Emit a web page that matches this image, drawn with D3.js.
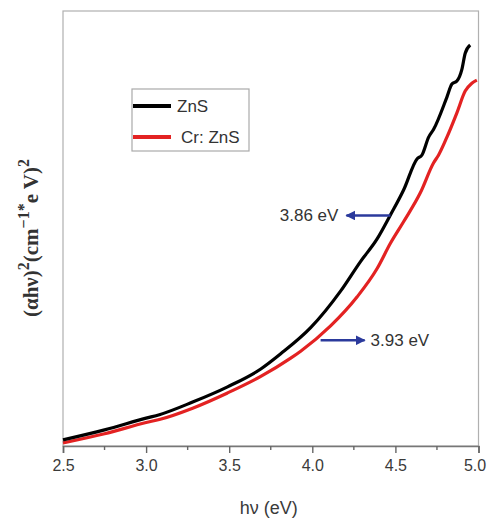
<!DOCTYPE html>
<html>
<head>
<meta charset="utf-8">
<script src="https://cdn.jsdelivr.net/npm/d3@7"></script>
<style>
  body { margin: 0; background: #fff; }
  svg { display: block; }
</style>
</head>
<body>
<svg id="chart" width="488" height="523"></svg>
<script>
// ---- data ----
const xTicks = [2.5, 3.0, 3.5, 4.0, 4.5, 5.0];
const seriesNames = ["ZnS", "Cr: ZnS"];
const znsX = [2.50, 2.75, 3.00, 3.08, 3.28, 3.49, 3.69, 3.81, 3.99, 4.17, 4.29, 4.39, 4.47, 4.55, 4.63, 4.66, 4.70, 4.73, 4.81, 4.84, 4.87, 4.90, 4.92, 4.95];
const znsY = [1.4, 3.7, 6.4, 7.2, 10.1, 13.6, 17.7, 21.2, 27.2, 35.6, 42.4, 47.6, 53.1, 58.9, 66.0, 66.9, 71.0, 72.8, 80.2, 83.2, 83.9, 86.6, 90.3, 92.2];
const crX = [2.50, 2.75, 3.00, 3.08, 3.28, 3.49, 3.69, 3.87, 3.93, 4.11, 4.27, 4.39, 4.47, 4.55, 4.65, 4.73, 4.76, 4.81, 4.87, 4.92, 4.96, 4.99];
const crY = [0.7, 2.8, 5.4, 6.1, 8.7, 12.2, 16.0, 20.2, 21.8, 27.6, 34.3, 40.8, 46.6, 51.6, 58.2, 65.1, 66.9, 71.0, 76.6, 81.6, 83.4, 84.1];
const annotations = [
  { label: "3.86 eV", x: 4.47, y: 53.0, dir: -1 },
  { label: "3.93 eV", x: 4.05, y: 24.3, dir: 1 }
];

// ---- layout ----
const svg = d3.select("#chart");
const L = 63, R = 478.5, T = 11, B = 446;
const x = d3.scaleLinear().domain([2.5, 5.0]).range([L, R]);
const y = d3.scaleLinear().domain([0, 100]).range([B, T]);

// frame
svg.append("rect").attr("x", L).attr("y", T).attr("width", R - L).attr("height", B - T)
  .attr("fill", "none").attr("stroke", "#b0b0b0").attr("stroke-width", 1.2);

// x axis
const xAxis = d3.axisBottom(x).tickValues(xTicks).tickFormat(d3.format(".1f")).tickSize(7).tickPadding(7);
const gx = svg.append("g").attr("transform", `translate(0,${B})`).call(xAxis);
gx.select(".domain").attr("stroke", "#777").attr("stroke-width", 1.6);
gx.selectAll(".tick line").attr("stroke", "#666").attr("stroke-width", 1.4);
gx.selectAll(".tick text").attr("fill", "#3a3a3a").style("font-family", "'Liberation Sans', Arial, sans-serif")
  .style("font-size", "16px")
  .attr("dx", d => d === 5.0 ? -4 : 0);
// minor ticks
const minor = d3.range(2.75, 5.0, 0.5);
svg.append("g").selectAll("line").data(minor).join("line")
  .attr("x1", d => x(d)).attr("x2", d => x(d)).attr("y1", B).attr("y2", B + 4)
  .attr("stroke", "#666").attr("stroke-width", 1.4);

// axis titles
svg.append("text").attr("x", (L + R) / 2 - 2).attr("y", 514).attr("text-anchor", "middle")
  .attr("fill", "#3a3a3a").style("font-family", "'Liberation Sans', Arial, sans-serif")
  .style("font-size", "18px").text("hν (eV)");

const yt = svg.append("text").attr("transform", "translate(38,238) rotate(-90)")
  .attr("text-anchor", "middle").attr("fill", "#333")
  .style("font-family", "'Liberation Serif', 'Times New Roman', serif")
  .style("font-size", "21px").style("font-weight", "bold");
yt.append("tspan").text("(αhν)");
yt.append("tspan").attr("dy", -9).style("font-size", "16px").text("2");
yt.append("tspan").attr("dy", 9).text("(cm");
yt.append("tspan").attr("dy", -9).style("font-size", "16px").text("−1");
yt.append("tspan").attr("dy", 0).style("font-size", "16px").text("*");
yt.append("tspan").attr("dy", 9).text("e V)");
yt.append("tspan").attr("dy", -9).style("font-size", "16px").text("2");

// lines
const line = d3.line().x(d => x(d[0])).y(d => y(d[1])).curve(d3.curveMonotoneX);
const zns = znsX.map((v, i) => [v, znsY[i]]);
const cr = crX.map((v, i) => [v, crY[i]]);
svg.append("path").datum(cr).attr("d", line).attr("fill", "none")
  .attr("stroke", "#e32222").attr("stroke-width", 3.2).attr("stroke-linejoin", "round");
svg.append("path").datum(zns).attr("d", line).attr("fill", "none")
  .attr("stroke", "#000").attr("stroke-width", 3.2).attr("stroke-linejoin", "round");

// legend
const lg = svg.append("g");
lg.append("rect").attr("x", 132).attr("y", 89).attr("width", 117).attr("height", 62)
  .attr("fill", "#fff").attr("stroke", "#aaa").attr("stroke-width", 1.2);
const legColors = ["#000", "#e32222"];
seriesNames.forEach((n, i) => {
  const yy = 106 + i * 31;
  lg.append("line").attr("x1", 133).attr("x2", 171).attr("y1", yy).attr("y2", yy)
    .attr("stroke", legColors[i]).attr("stroke-width", 4);
  lg.append("text").attr("x", i === 0 ? 177 : 181).attr("y", yy + 6).attr("fill", "#333")
    .style("font-family", "'Liberation Sans', Arial, sans-serif").style("font-size", "17px").text(n);
});

// annotations
const defs = svg.append("defs");
defs.append("marker").attr("id", "arr").attr("viewBox", "0 0 10 10").attr("refX", 9).attr("refY", 5)
  .attr("markerWidth", 4).attr("markerHeight", 4).attr("orient", "auto")
  .append("path").attr("d", "M0,0 L10,5 L0,10 z").attr("fill", "#2b3a9c");
annotations.forEach(a => {
  const px = x(a.x), py = y(a.y);
  const len = 44;
  svg.append("line").attr("x1", px).attr("y1", py).attr("x2", px + a.dir * len).attr("y2", py)
    .attr("stroke", "#2b3a9c").attr("stroke-width", 2.5).attr("marker-end", "url(#arr)");
  const t = svg.append("text").attr("y", py + 6).attr("fill", "#333")
    .style("font-family", "'Liberation Sans', Arial, sans-serif").style("font-size", "17px").text(a.label);
  if (a.dir < 0) t.attr("x", px + a.dir * len - 8).attr("text-anchor", "end");
  else t.attr("x", px + len + 6).attr("text-anchor", "start");
});
</script>
</body>
</html>
